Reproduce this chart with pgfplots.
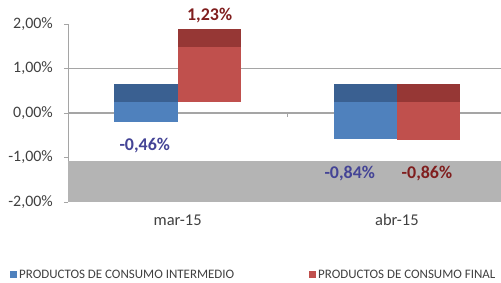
\documentclass[border=0pt]{standalone}
\usepackage{pgfplots}
\pgfplotsset{compat=1.18}
\usepackage{fontspec}
\setmainfont{Carlito}
\definecolor{bfront}{RGB}{79,129,189}
\definecolor{btop}{RGB}{58,96,145}
\definecolor{rfront}{RGB}{192,80,77}
\definecolor{rtop}{RGB}{150,55,53}
\definecolor{blab}{RGB}{68,68,150}
\definecolor{rlab}{RGB}{128,30,30}
\definecolor{floorc}{RGB}{180,180,180}
\definecolor{gridc}{RGB}{165,165,165}
\definecolor{txt}{RGB}{64,64,64}
\begin{document}
\begin{tikzpicture}
\begin{axis}[
  at={(68bp,81bp)}, anchor=south west,
  scale only axis, width=433bp, height=178bp,
  xmin=-0.5, xmax=1.475, ymin=-2, ymax=2,
  clip=false,
  axis y line*=left, axis x line*=bottom,
  x axis line style={draw=none},
  y axis line style={draw=gridc,line width=0.8pt,-},
  ytick={-2,-1,0,1,2},
  yticklabels={{-2,00\%},{-1,00\%},{0,00\%},{1,00\%},{2,00\%}},
  xtick={0,1}, xticklabels={mar-15,abr-15},
  x tick style={draw=none},
  y tick style={draw=gridc,line width=0.8pt},
  tick align=outside, major tick length=4bp,
  yticklabel style={font=\fontsize{16}{18}\selectfont, text=txt, inner sep=0pt, xshift=-11bp},
  xticklabel style={font=\fontsize{16.5}{18}\selectfont, text=txt, yshift=-5bp},
  extra y ticks={0,1}, extra y tick labels={},
  extra y tick style={grid=major, major tick length=0pt, grid style={draw=gridc,line width=1.2pt}},
  legend columns=2,
  legend style={at={(-0.134,-0.41)}, anchor=west, draw=none, fill=none, inner sep=0pt,
    font=\fontsize{13}{15}\selectfont, text=txt,
    /tikz/every even column/.append style={column sep=73bp}},
  legend image code/.code={\fill[#1] (0bp,-3.5bp) rectangle (7bp,3.5bp);},
]
\fill[floorc] (axis cs:-0.5,-2) rectangle (axis cs:1.475,-1.07);
% front faces (height = value: 0.46, 1.23, 0.84, 0.86), drawn with 3D offset
\addplot[draw=none, fill=bfront] coordinates {(-0.288,-0.21) (0,-0.21) (0,0.25) (-0.288,0.25)} -- cycle;
\addlegendentry{PRODUCTOS DE CONSUMO INTERMEDIO}
\addplot[draw=none, fill=rfront] coordinates {(0,0.25) (0.288,0.25) (0.288,1.48) (0,1.48)} -- cycle;
\addlegendentry{PRODUCTOS DE CONSUMO FINAL}
\addplot[draw=none, fill=bfront, forget plot] coordinates {(0.712,-0.59) (1.0,-0.59) (1.0,0.25) (0.712,0.25)} -- cycle;
\addplot[draw=none, fill=rfront, forget plot] coordinates {(1.0,-0.61) (1.288,-0.61) (1.288,0.25) (1.0,0.25)} -- cycle;
% top faces
\addplot[draw=none, fill=btop, forget plot] coordinates {(-0.288,0.25) (0,0.25) (0,0.66) (-0.288,0.66)} -- cycle;
\addplot[draw=none, fill=rtop, forget plot] coordinates {(0,1.48) (0.288,1.48) (0.288,1.89) (0,1.89)} -- cycle;
\addplot[draw=none, fill=btop, forget plot] coordinates {(0.712,0.25) (1.0,0.25) (1.0,0.66) (0.712,0.66)} -- cycle;
\addplot[draw=none, fill=rtop, forget plot] coordinates {(1.0,0.25) (1.288,0.25) (1.288,0.66) (1.0,0.66)} -- cycle;
\draw[gridc, line width=0.8pt] (axis cs:0.5,0) -- ([yshift=-4bp]axis cs:0.5,0);
\node[font=\bfseries\fontsize{18}{20}\selectfont, text=rlab] at (axis cs:0.146,2.18) {1,23\%};
\node[font=\bfseries\fontsize{18}{20}\selectfont, text=blab] at (axis cs:-0.15,-0.72) {-0,46\%};
\node[font=\bfseries\fontsize{18}{20}\selectfont, text=blab] at (axis cs:0.785,-1.35) {-0,84\%};
\node[font=\bfseries\fontsize{18}{20}\selectfont, text=rlab] at (axis cs:1.137,-1.35) {-0,86\%};
\end{axis}
\pgfresetboundingbox
\path (0,0) rectangle (501bp,283bp);
\end{tikzpicture}
\end{document}
